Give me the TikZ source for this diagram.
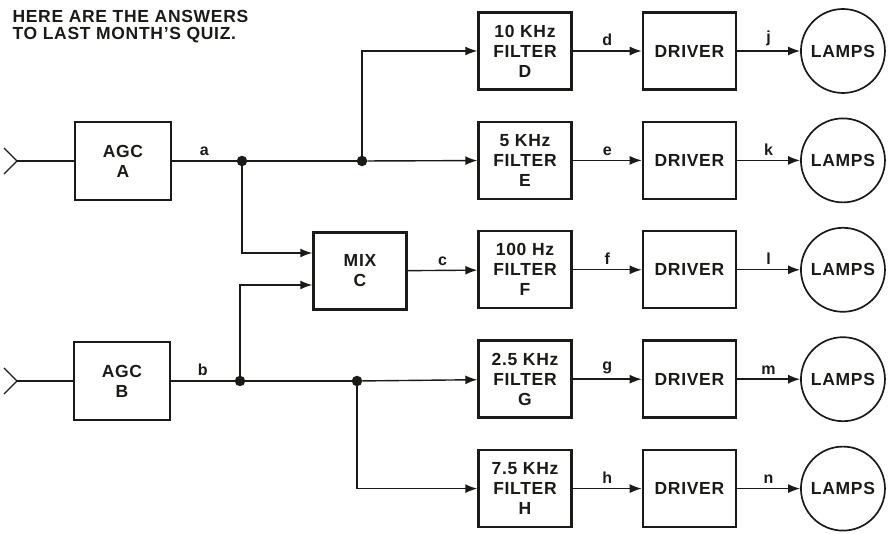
\documentclass[tikz,border=0pt]{standalone}
\usepackage{fontspec}
\setmainfont{Liberation Sans}[LetterSpace=4]
\usetikzlibrary{arrows.meta,positioning,calc}
\definecolor{ink}{HTML}{1A1A16}
\definecolor{paper}{HTML}{FFFFFF}
\tikzset{
  every node/.style={font=\bfseries\fontsize{17.5}{20}\selectfont, text=ink},
  block/.style={draw=ink, line width=2.4pt, fill=paper, align=center, inner sep=0pt, minimum width=93pt, minimum height=77pt},
  agcbox/.style={block, minimum width=96pt, minimum height=78pt},
  lamp/.style={circle, draw=ink, line width=1.7pt, fill=paper, inner sep=0pt, minimum size=84pt},
  wire/.style={draw=ink, line width=1.4pt},
  arrow/.style={-{Latex[length=12pt,width=9pt]}, line width=1.4pt, draw=ink},
  junction/.style={circle, fill=ink, inner sep=0pt, minimum size=10.5pt},
  siglabel/.style={font=\bfseries\fontsize{16}{18}\selectfont, above=1pt},
  title/.style={font=\bfseries\fontsize{17.5}{17}\selectfont, align=left, anchor=north west},
}
\begin{document}
\begin{tikzpicture}[x=1pt, y=-1pt, node distance=30pt and 69pt]
\useasboundingbox (0,0) rectangle (889,534);
\node[title] (t) at (9,7) {HERE ARE THE ANSWERS\\TO LAST MONTH’S QUIZ.};
% input stages
\node[agcbox] (agca) at (123,161) {AGC\\A};
\node[agcbox] (agcb) at (122,381) {AGC\\B};
\coordinate (ina) at (17,161);\coordinate (inb) at (17,381);
\draw[wire] ([shift={(-13,-13)}]ina) -- (ina) -- ([shift={(-13,13)}]ina);
\draw[wire] ([shift={(-13,-13)}]inb) -- (inb) -- ([shift={(-13,13)}]inb);
\draw[wire](ina)--(agca);\draw[wire](inb)--(agcb);
% filter column
\node[block] (fd) at (525,51) {10 KHz\\FILTER\\D};
\node[block, below=of fd] (fe) {5 KHz\\FILTER\\E};
\node[block, below=of fe] (ff) {100 Hz\\FILTER\\F};
\node[block, below=of ff] (fg) {2.5 KHz\\FILTER\\G};
\node[block, below=of fg] (fh) {7.5 KHz\\FILTER\\H};
% drivers and lamps
\node[block, right=of fd] (drd) {DRIVER};
\node[block, right=of fe] (dre) {DRIVER};
\node[block, right=of ff] (drf) {DRIVER};
\node[block, right=of fg] (drg) {DRIVER};
\node[block, right=of fh] (drh) {DRIVER};
\node[lamp, right=63pt of drd] (lpd) {LAMPS};
\node[lamp, right=63pt of dre] (lpe) {LAMPS};
\node[lamp, right=63pt of drf] (lpf) {LAMPS};
\node[lamp, right=63pt of drg] (lpg) {LAMPS};
\node[lamp, right=63pt of drh] (lph) {LAMPS};
% mixer and branch points
\node[block] (mix) at (360,271) {MIX\\C};
\coordinate (mixa) at ([yshift=18pt]mix.west);
\coordinate (mixb) at ([yshift=-14pt]mix.west);
\node[junction] (ja) at (242,161) {};
\node[junction] (jd) at (362,161) {};
\node[junction] (jb) at (240,381) {};
\node[junction] (jh) at (357,381) {};
\draw[wire](agca)-- node[siglabel]{a} (ja);\draw[wire](ja)--(jd);
\draw[arrow](jd)--(fe);\draw[arrow](jd)|-(fd);\draw[arrow](ja)|-(mixa);
\draw[wire](agcb)-- node[siglabel]{b} (jb);\draw[wire](jb)--(jh);
\draw[arrow](jh)--(fg);\draw[arrow](jh)|-(fh);\draw[arrow](jb)|-(mixb);
\draw[arrow](mix)-- node[siglabel]{c} (ff);
% outputs
\draw[arrow](fd)-- node[siglabel]{d} (drd);\draw[arrow](drd)-- node[siglabel]{j} (lpd);
\draw[arrow](fe)-- node[siglabel]{e} (dre);\draw[arrow](dre)-- node[siglabel]{k} (lpe);
\draw[arrow](ff)-- node[siglabel]{f} (drf);\draw[arrow](drf)-- node[siglabel]{l} (lpf);
\draw[arrow](fg)-- node[siglabel]{g} (drg);\draw[arrow](drg)-- node[siglabel]{m} (lpg);
\draw[arrow](fh)-- node[siglabel]{h} (drh);\draw[arrow](drh)-- node[siglabel]{n} (lph);
\end{tikzpicture}
\end{document}
